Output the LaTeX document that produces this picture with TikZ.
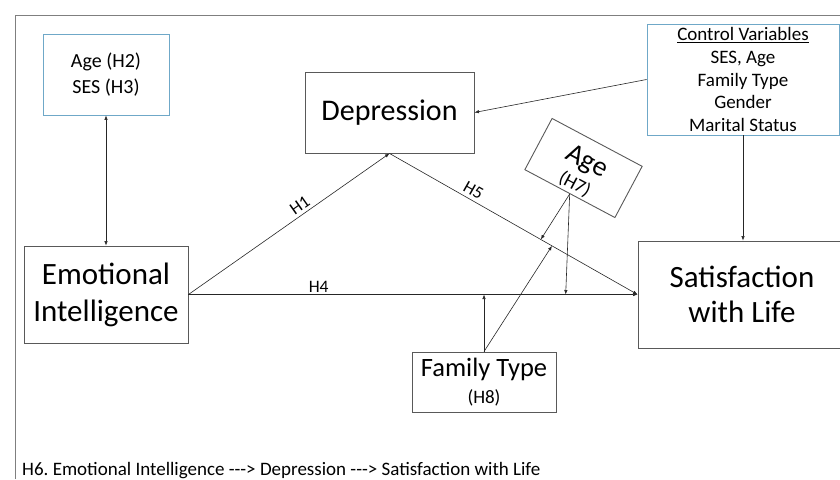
\documentclass[tikz,border=0pt]{standalone}
\usepackage{fontspec}
\setmainfont{Carlito}
\usetikzlibrary{arrows.meta,calc}
\definecolor{boxgray}{HTML}{595959}
\definecolor{boxblue}{HTML}{6FA8C8}
\definecolor{framegray}{HTML}{7F7F7F}
\frenchspacing

\begin{document}
\begin{tikzpicture}[x=1pt,y=-1pt]
\tikzstyle{box}=[draw=boxgray,line width=0.9pt,align=center,inner sep=0pt]
\tikzstyle{ctrl}=[box,draw=boxblue]
\tikzstyle{arr}=[draw=black!85,line width=0.6pt,-{Latex[length=4.5pt,width=3.5pt]}]
\tikzstyle{lab}=[font=\fontsize{17.5}{17.5}\selectfont]
\useasboundingbox (0,0) rectangle (840,479);
\draw[framegray,line width=1pt] (15,479) -- (15,15) -- (840,15);

\node[ctrl,minimum width=126pt,minimum height=81pt,font=\fontsize{20}{25.5}\selectfont] (agesesa) at (106,74.5) {Age (H2)\\SES (H3)};
\node[box,minimum width=169pt,minimum height=81pt,font=\fontsize{30}{34}\selectfont] (dep) at (389.5,112.5) {Depression};
\node[ctrl,minimum width=192pt,minimum height=111pt,font=\fontsize{19}{22.7}\selectfont] (ctrl) at (743,79.5)
  {\underline{Control Variables}\\SES, Age\\Family Type\\Gender\\Marital Status};
\node[box,minimum width=164pt,minimum height=97pt,font=\fontsize{31}{37}\selectfont] (ei) at (106,294.5) {Emotional\\Intelligence};
\node[box,minimum width=208pt,minimum height=107pt,font=\fontsize{31}{35}\selectfont] (swl) at (742,294.5) {Satisfaction\\with Life};
\node[box,minimum width=144pt,minimum height=60pt,font=\fontsize{19}{27}\selectfont] (fam) at (484,382)
  {{\fontsize{26.5}{26.5}\selectfont Family Type}\\(H8)};
\node[box,rotate=-28,minimum width=102pt,minimum height=58pt,font=\fontsize{19}{24}\selectfont] (age) at (583.5,168)
  {\rule{0pt}{27pt}{\fontsize{28}{28}\selectfont Age}\\(H7)};

%paths
\draw[arr,{Latex[length=4.5pt,width=3.5pt]}-{Latex[length=4.5pt,width=3.5pt]}] (agesesa.south) -- (ei.north);
\draw[arr] (ei.east) -- node[lab,pos=0.58,sloped,above] {H1} (dep.south);
\draw[arr] (dep.south) -- node[lab,pos=0.32,sloped,above] {H5} (swl.west);
\draw[arr] (ei.east) -- node[lab,pos=0.29,above,inner sep=2pt] {H4} (swl.west);
\draw[arr] (ctrl.west) -- (dep.east);
\draw[arr] (ctrl.south) -- (ctrl.south |- swl.north);

\coordinate (h5a) at ($(dep.south)!0.61!(swl.west)$);
\coordinate (h5b) at ($(dep.south)!0.655!(swl.west)$);
\coordinate (h4a) at ($(ei.east)!0.84!(swl.west)$);
\draw[arr] (age.south) -- (h5a);
\draw[arr] (age.south) -- (h4a);
\draw[arr] (fam.north) -- (fam.north |- ei.east);
\draw[arr] (fam.north) -- (h5b);

\node[anchor=base west,inner sep=0pt,font=\fontsize{19}{19}\selectfont] (h6) at (22,475.5)
  {H6. Emotional Intelligence -{}-{}-> Depression -{}-{}-> Satisfaction with Life};
\end{tikzpicture}
\end{document}
